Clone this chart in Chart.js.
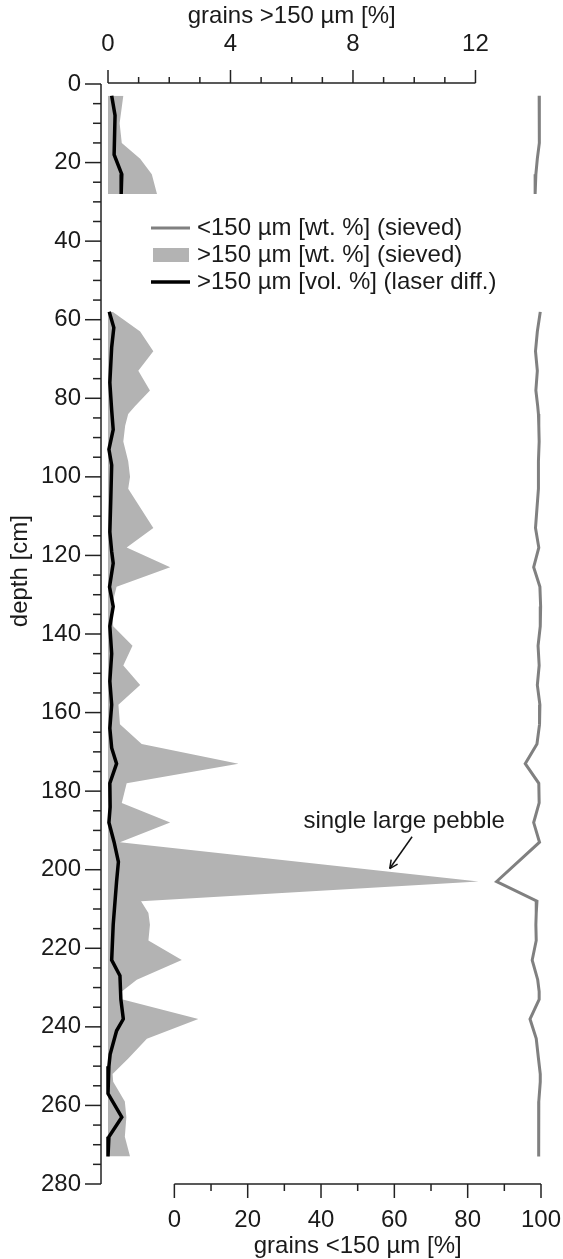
<!DOCTYPE html>
<html>
<head>
<meta charset="utf-8">
<script src="https://cdn.jsdelivr.net/npm/chart.js@4.4.1/dist/chart.umd.min.js"></script>
<style>
  html, body { margin: 0; padding: 0; background: #fff; }
  #wrap { width: 563px; height: 1259px; }
</style>
</head>
<body>
<div id="wrap"><canvas id="c"></canvas></div>
<script>
// sieved samples (null = no samples between the two sections)
const sieveDepth = [3, 10, 15, 19, 23, 28, 43,
  58, 63, 68, 73, 78, 82, 84, 87, 91, 96, 100, 103, 113, 118, 123, 128, 133, 138,
  143, 148, 153, 158, 163, 168, 173, 178, 183, 188, 193, 203, 208, 211, 214, 218,
  223, 228, 231, 233, 238, 243, 248, 252, 254, 259, 263, 268, 273]
const coarseWt = [0.5, 0.38, 0.45, 1.05, 1.43, 1.6, null,
  0.15, 1.05, 1.48, 0.99, 1.37, 0.88, 0.66, 0.56, 0.5, 0.66, 0.72, 0.66, 1.48, 0.61, 2.03, 0.28, 0.12, 0.17,
  0.8, 0.5, 1.05, 0.34, 0.39, 1.1, 4.26, 0.61, 0.45, 2.03, 0.39, 12.1, 1.08, 1.32, 1.37, 1.32,
  2.41, 0.94, 0.45, 0.45, 2.95, 1.27, 0.67, 0.15, 0.17, 0.55, 0.6, 0.55, 0.72]
const fineWt = [99.5, 99.6, 99.5, 99.0, 98.6, 98.4, null,
  99.8, 99.0, 98.5, 99.0, 98.6, 99.1, 99.3, 99.4, 99.5, 99.3, 99.3, 99.3, 98.5, 99.4, 98.0, 99.7, 99.9, 99.8,
  99.2, 99.5, 99.0, 99.7, 99.6, 98.9, 95.7, 99.4, 99.5, 98.0, 99.6, 87.9, 98.9, 98.7, 98.6, 98.7,
  97.6, 99.1, 99.5, 99.5, 97.0, 98.7, 99.3, 99.8, 99.8, 99.4, 99.4, 99.4, 99.3]

// laser diffraction
const laserDepth = [3, 8, 18, 23, 28, 43,
  58, 62, 67, 76, 83, 88, 93, 97, 106, 114, 119, 122, 128, 133, 138, 145, 152, 158, 164,
  169, 173, 178, 184, 188, 193, 198, 203, 214, 223, 227, 233, 238, 241, 247, 250, 257,
  263, 268, 273]
const coarseVol = [0.12, 0.23, 0.2, 0.45, 0.43, null,
  0.04, 0.19, 0.12, 0.06, 0.12, 0.17, 0.03, 0.12, 0.09, 0.06, 0.12, 0.17, 0.05, 0.17, 0.06, 0.12, 0.06, 0.12, 0.06,
  0.12, 0.28, 0.06, 0.07, 0.03, 0.2, 0.34, 0.28, 0.17, 0.12, 0.39, 0.42, 0.5, 0.28, 0.07, 0.03, 0.0,
  0.45, 0.03, 0.0]

const topTicks = [0, 4, 8, 12]
const bottomTicks = [0, 20, 40, 60, 80, 100]
const depthTicks = [0, 20, 40, 60, 80, 100, 120, 140, 160, 180, 200, 220, 240, 260, 280]
const legendLabels = ['<150 µm [wt. %] (sieved)', '>150 µm [wt. %] (sieved)', '>150 µm [vol. %] (laser diff.)']
const titles = { top: 'grains >150 µm [%]', bottom: 'grains <150 µm [%]', depth: 'depth [cm]' }
const note = 'single large pebble'

const FONT = "'Liberation Sans', Arial, sans-serif"
Chart.defaults.font.family = FONT
Chart.defaults.font.size = 24
Chart.defaults.color = '#1a1a1a'

const pts = (ys, xs) => ys.map((d, i) => ({ y: d, x: xs[i] }))
// fixed box sizes, no extra room for overhanging tick labels
const fitTo = (w, h) => s => {
  if (w != null) s.width = w
  if (h != null) s.height = h
  s.paddingLeft = s.paddingRight = s.paddingTop = s.paddingBottom = 0
}

const frame = {
  id: 'frame',
  afterDatasetsDraw(chart) {
    const { ctx, chartArea: a, scales } = chart
    const y = scales.y, xt = scales.xTop, xb = scales.xBot
    const seg = (x1, y1, x2, y2) => { ctx.beginPath(); ctx.moveTo(x1, y1); ctx.lineTo(x2, y2); ctx.stroke() }
    ctx.save()
    ctx.strokeStyle = '#222'
    ctx.lineWidth = 1.5

    // depth axis
    const ax = a.left - 7
    seg(ax, y.getPixelForValue(0), ax, y.getPixelForValue(280))
    for (let d = 0; d <= 280; d += 5) {
      const py = y.getPixelForValue(d)
      seg(ax - (d % 20 === 0 ? 16 : 8), py, ax, py)
    }
    // top axis
    const ty = a.top - 1
    seg(xt.getPixelForValue(0), ty, xt.getPixelForValue(12), ty)
    for (let v = 0; v <= 12; v++) {
      const px = xt.getPixelForValue(v)
      seg(px, ty, px, ty - (v % 4 === 0 ? 13 : 6))
    }
    // bottom axis
    const by = a.bottom
    seg(xb.getPixelForValue(0), by, xb.getPixelForValue(100), by)
    for (let v = 0; v <= 100; v += 10) {
      const px = xb.getPixelForValue(v)
      seg(px, by, px, by + (v % 20 === 0 ? 14 : 7))
    }

    ctx.fillStyle = '#1a1a1a'
    ctx.font = '24px ' + FONT
    ctx.textBaseline = 'middle'

    // axis titles, centred on the drawn axis ranges
    ctx.textAlign = 'center'
    ctx.fillText(titles.top, (xt.getPixelForValue(0) + xt.getPixelForValue(12)) / 2, 16)
    ctx.fillText(titles.bottom, (xb.getPixelForValue(0) + xb.getPixelForValue(100)) / 2, 1246)
    ctx.save()
    ctx.translate(20, y.getPixelForValue(124))
    ctx.rotate(-Math.PI / 2)
    ctx.fillText(titles.depth, 0, 0)
    ctx.restore()

    // legend
    const lx = a.left + 43, ly = a.top + 144, gap = 27
    ctx.lineWidth = 3
    ctx.strokeStyle = '#808080'
    seg(lx, ly, lx + 39, ly)
    ctx.fillStyle = '#b3b3b3'
    ctx.fillRect(lx + 2, ly + gap - 7, 36, 14)
    ctx.lineWidth = 3.5
    ctx.strokeStyle = '#000'
    seg(lx, ly + 2 * gap, lx + 39, ly + 2 * gap)
    ctx.fillStyle = '#1a1a1a'
    ctx.textAlign = 'left'
    legendLabels.forEach((t, i) => ctx.fillText(t, lx + 46, ly + i * gap))

    // annotation
    ctx.textAlign = 'center'
    ctx.fillText(note, xt.getPixelForValue(9.67), y.getPixelForValue(187.8))
    const x1 = xt.getPixelForValue(9.93), y1 = y.getPixelForValue(191.6)
    const x2 = xt.getPixelForValue(9.2), y2 = y.getPixelForValue(199.7)
    ctx.lineWidth = 1.5
    ctx.strokeStyle = '#111'
    seg(x1, y1, x2, y2)
    const ang = Math.atan2(y2 - y1, x2 - x1)
    seg(x2, y2, x2 - 9 * Math.cos(ang - 0.45), y2 - 9 * Math.sin(ang - 0.45))
    seg(x2, y2, x2 - 9 * Math.cos(ang + 0.45), y2 - 9 * Math.sin(ang + 0.45))
    ctx.restore()
  }
}

new Chart(document.getElementById('c'), {
  type: 'line',
  data: {
    datasets: [
      {
        label: legendLabels[2],
        data: pts(laserDepth, coarseVol),
        xAxisID: 'xTop',
        borderColor: '#000',
        borderWidth: 3.5,
        pointRadius: 0,
        fill: false,
        clip: false
      },
      {
        label: legendLabels[0],
        data: pts(sieveDepth, fineWt),
        xAxisID: 'xBot',
        borderColor: '#808080',
        borderWidth: 3,
        pointRadius: 0,
        fill: false,
        clip: false
      },
      {
        label: legendLabels[1],
        data: pts(sieveDepth, coarseWt),
        xAxisID: 'xTop',
        borderWidth: 0,
        borderColor: 'rgba(0,0,0,0)',
        backgroundColor: '#b3b3b3',
        pointRadius: 0,
        fill: 'origin'
      }
    ]
  },
  options: {
    indexAxis: 'y',
    responsive: true,
    maintainAspectRatio: false,
    animation: false,
    spanGaps: false,
    layout: { padding: { left: 0, right: 22, top: 0, bottom: 0 } },
    plugins: { legend: { display: false }, tooltip: { enabled: false } },
    scales: {
      y: {
        type: 'linear',
        position: 'left',
        reverse: true,
        min: 0,
        max: 280,
        afterFit: fitTo(108, null),
        afterBuildTicks: s => { s.ticks = depthTicks.map(v => ({ value: v })) },
        grid: { display: false, drawTicks: false },
        border: { display: false },
        ticks: { padding: 27, color: '#1a1a1a' }
      },
      xTop: {
        type: 'linear',
        position: 'top',
        min: 0,
        max: 14.14,
        afterFit: fitTo(null, 84),
        afterBuildTicks: s => { s.ticks = topTicks.map(v => ({ value: v })) },
        grid: { display: false, drawTicks: false },
        border: { display: false },
        ticks: { padding: 25, maxRotation: 0, color: '#1a1a1a' }
      },
      xBot: {
        type: 'linear',
        position: 'bottom',
        min: -18.1,
        max: 100,
        afterFit: fitTo(null, 75),
        afterBuildTicks: s => { s.ticks = bottomTicks.map(v => ({ value: v })) },
        grid: { display: false, drawTicks: false },
        border: { display: false },
        ticks: { padding: 22, maxRotation: 0, color: '#1a1a1a' }
      }
    }
  },
  plugins: [frame]
})
</script>
</body>
</html>
